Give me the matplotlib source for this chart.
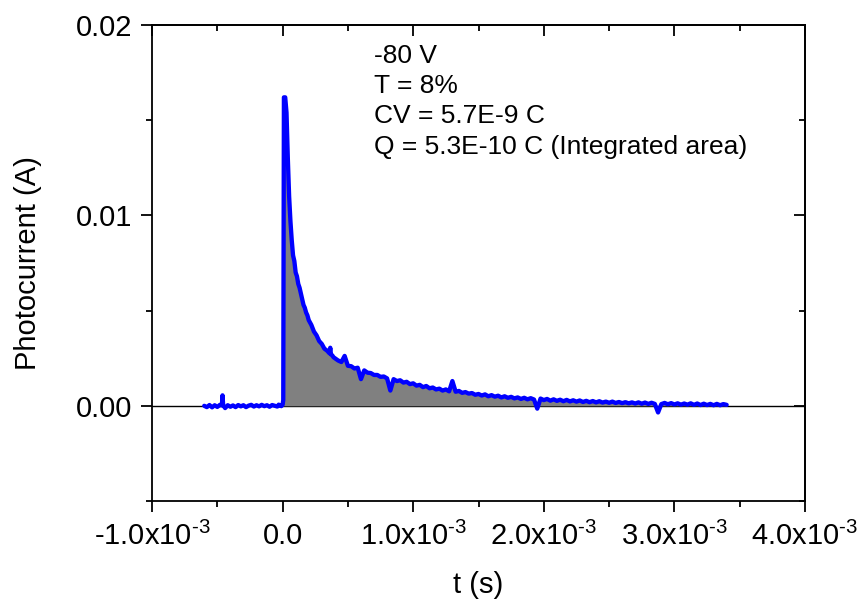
import numpy as np
import matplotlib
matplotlib.use("Agg")
import matplotlib.pyplot as plt
from matplotlib.ticker import MultipleLocator, FixedLocator, FixedFormatter

plt.rcParams['font.family'] = ['Liberation Sans', 'DejaVu Sans']
plt.rcParams['mathtext.fontset'] = 'custom'
plt.rcParams['mathtext.rm'] = 'Liberation Sans'
plt.rcParams['mathtext.it'] = 'Liberation Sans'

# time in ms, current in mA
t_pre = [-0.60, -0.58, -0.56, -0.54, -0.52, -0.50, -0.48, -0.465, -0.46, -0.455, -0.44, -0.42,
         -0.40, -0.38, -0.36, -0.34, -0.32, -0.30, -0.28, -0.26, -0.24, -0.22, -0.20,
         -0.18, -0.16, -0.14, -0.12, -0.10, -0.08, -0.06, -0.04, -0.03, -0.02, -0.01, 0.0]
i_pre = [0.00, -0.07, 0.04, -0.08, 0.03, -0.06, 0.05, 0.02, 0.55, 0.03, -0.12, 0.03,
         -0.05, 0.02, -0.07, 0.04, -0.03, 0.03, -0.07, 0.01, 0.05, -0.04, 0.03,
         -0.03, 0.05, -0.02, 0.03, -0.05, 0.04, 0.00, -0.04, 0.06, 0.02, -0.02, 0.05]

t_rise = [0.005, 0.01, 0.02, 0.03, 0.04, 0.05, 0.06, 0.07, 0.08, 0.09, 0.10, 0.11, 0.12,
          0.13, 0.14, 0.15, 0.16, 0.17, 0.18, 0.19, 0.20, 0.22, 0.24, 0.26, 0.28, 0.30,
          0.32, 0.34, 0.36, 0.365, 0.37, 0.38, 0.39]
i_rise = [0.30, 16.2, 16.2, 15.4, 13.0, 11.0, 9.7, 8.7, 7.9, 7.6, 7.0, 6.8, 6.4,
          6.2, 5.9, 5.6, 5.3, 5.15, 4.9, 4.75, 4.5, 4.25, 3.9, 3.7, 3.4, 3.25,
          3.0, 2.9, 2.75, 3.05, 2.7, 2.65, 2.55]

t_tail = [0.400, 0.425, 0.450, 0.475, 0.500, 0.525, 0.550, 0.575, 0.600, 0.625, 0.650, 0.675,
          0.700, 0.725, 0.750, 0.775, 0.800, 0.825, 0.850, 0.875, 0.900, 0.925, 0.950, 0.975,
          1.000, 1.025, 1.050, 1.075, 1.100, 1.125, 1.150, 1.175, 1.200, 1.225, 1.250, 1.275,
          1.300, 1.325, 1.350, 1.375, 1.400, 1.425, 1.450, 1.475, 1.500, 1.525, 1.550, 1.575,
          1.600, 1.625, 1.650, 1.675, 1.700, 1.725, 1.750, 1.775, 1.800, 1.825, 1.850, 1.875,
          1.900, 1.925, 1.950, 1.975, 2.000, 2.025, 2.050, 2.075, 2.100, 2.125, 2.150, 2.175,
          2.200, 2.225, 2.250, 2.275, 2.300, 2.325, 2.350, 2.375, 2.400, 2.425, 2.450, 2.475,
          2.500, 2.525, 2.550, 2.575, 2.600, 2.625, 2.650, 2.675, 2.700, 2.725, 2.750, 2.775,
          2.800, 2.825, 2.850, 2.875, 2.900, 2.925, 2.950, 2.975, 3.000, 3.025, 3.050, 3.075,
          3.100, 3.125, 3.150, 3.175, 3.200, 3.225, 3.250, 3.275, 3.300, 3.325, 3.350, 3.375,
          3.400]
i_tail = [2.50, 2.38, 2.30, 2.62, 2.10, 2.08, 1.96, 2.00, 1.40, 1.86, 1.74, 1.72,
          1.62, 1.62, 1.52, 1.54, 1.44, 0.80, 1.40, 1.30, 1.34, 1.22, 1.26, 1.14,
          1.18, 1.06, 1.10, 0.98, 1.04, 0.92, 0.96, 0.86, 0.90, 0.80, 0.86, 0.76,
          1.30, 0.74, 0.78, 0.68, 0.72, 0.64, 0.67, 0.58, 0.62, 0.54, 0.60, 0.50,
          0.56, 0.48, 0.53, 0.44, 0.50, 0.42, 0.47, 0.39, 0.44, 0.36, 0.42, 0.34,
          0.40, 0.33, -0.15, 0.38, 0.30, 0.36, 0.27, 0.34, 0.26, 0.32, 0.24, 0.31,
          0.23, 0.29, 0.22, 0.28, 0.20, 0.26, 0.19, 0.25, 0.18, 0.24, 0.17, 0.22,
          0.16, 0.22, 0.15, 0.20, 0.14, 0.19, 0.13, 0.18, 0.12, 0.18, 0.11, 0.17,
          0.10, 0.16, 0.10, -0.35, 0.09, 0.15, 0.08, 0.14, 0.07, 0.13, 0.06, 0.12,
          0.06, 0.13, 0.05, 0.12, 0.04, 0.11, 0.04, 0.10, 0.03, 0.10, 0.03, 0.09,
          0.05]

x_ticks = [-1.0e-3, 0.0, 1.0e-3, 2.0e-3, 3.0e-3, 4.0e-3]
x_ticklabels = ['-1.0x10$^{\\text{-3}}$', '0.0', '1.0x10$^{\\text{-3}}$', '2.0x10$^{\\text{-3}}$',
                '3.0x10$^{\\text{-3}}$', '4.0x10$^{\\text{-3}}$']
y_ticks = [0.00, 0.01, 0.02]
y_ticklabels = ['0.00', '0.01', '0.02']
annotation = ['-80 V', 'T = 8%', 'CV = 5.7E-9 C', 'Q = 5.3E-10 C (Integrated area)']

t = np.array(t_pre + t_rise + t_tail) * 1e-3
i = np.array(i_pre + i_rise + i_tail) * 1e-3

fig = plt.figure(figsize=(8.6, 6.03), dpi=100)
ax = fig.add_axes([152.0 / 860, 1 - 501.0 / 603, 653.0 / 860, 476.0 / 603])

ax.axhline(0, color='black', lw=1.0, zorder=1)
ax.fill_between(t, i, 0, where=t >= 0, color='#808080', lw=0, zorder=2)
ax.plot(t, i, color='#0000ff', lw=3.1, zorder=3, solid_joinstyle='round',
        solid_capstyle='round')

ax.set_xlim(-1.0e-3, 4.0e-3)
ax.set_ylim(-0.005, 0.02)
ax.xaxis.set_major_locator(FixedLocator(x_ticks))
ax.xaxis.set_major_formatter(FixedFormatter(x_ticklabels))
ax.xaxis.set_minor_locator(MultipleLocator(0.5e-3))
ax.yaxis.set_major_locator(FixedLocator(y_ticks))
ax.yaxis.set_major_formatter(FixedFormatter(y_ticklabels))
ax.yaxis.set_minor_locator(MultipleLocator(0.005))

for s in ax.spines.values():
    s.set_linewidth(1.3)

ax.tick_params(which='major', direction='out', length=8, width=1.3, labelsize=21,
               top=False, right=False)
ax.tick_params(axis='y', which='major', pad=6)
ax.tick_params(axis='x', which='major', pad=7)
ax.tick_params(which='minor', direction='out', length=4.5, width=1.3, top=False, right=False)

# mirrored inward ticks on top/right
axt = ax.secondary_xaxis('top')
axt.xaxis.set_major_locator(FixedLocator(x_ticks))
axt.xaxis.set_minor_locator(MultipleLocator(0.5e-3))
axt.tick_params(which='major', direction='in', length=8, width=1.3, labeltop=False)
axt.tick_params(which='minor', direction='in', length=4.5, width=1.3)
axt.spines['top'].set_linewidth(1.3)
axr = ax.secondary_yaxis('right')
axr.yaxis.set_major_locator(FixedLocator(y_ticks))
axr.yaxis.set_minor_locator(MultipleLocator(0.005))
axr.tick_params(which='major', direction='in', length=8, width=1.3, labelright=False)
axr.tick_params(which='minor', direction='in', length=4.5, width=1.3)
axr.spines['right'].set_linewidth(1.3)

ax.set_xlabel('t (s)', fontsize=21)
ax.set_ylabel('Photocurrent (A)', fontsize=21)
ax.xaxis.set_label_coords(0.5, -0.147)
ax.yaxis.set_label_coords(-0.168, 0.5)

for k, line in enumerate(annotation):
    ax.text(0.3395, 0.935 - k * 0.0635, line, transform=ax.transAxes, fontsize=19,
            ha='left', va='center')

fig.savefig('out.png', dpi=100)
